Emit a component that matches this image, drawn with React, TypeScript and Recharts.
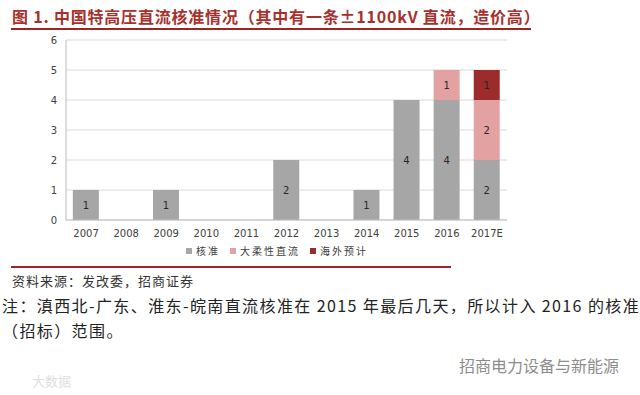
import { Bar, BarChart, CartesianGrid, LabelList, XAxis, YAxis } from "recharts";

const years = ["2007", "2008", "2009", "2010", "2011", "2012", "2013", "2014", "2015", "2016", "2017E"];
const approved = [1, 0, 1, 0, 0, 2, 0, 1, 4, 4, 2];
const flexible = [0, 0, 0, 0, 0, 0, 0, 0, 0, 1, 2];
const overseas = [0, 0, 0, 0, 0, 0, 0, 0, 0, 0, 1];
const yTicks = [0, 1, 2, 3, 4, 5, 6];
const boundaryTicks = [0, 1, 2, 3, 4, 5, 6, 7, 8, 9, 10, 11];

const series = [
  { key: "approved", name: "核准", color: "#a6a6a6" },
  { key: "flexible", name: "大柔性直流", color: "#e3a1a1" },
  { key: "overseas", name: "海外预计", color: "#9c2b2b" },
];

const data = years.map((y, i) => ({
  year: y,
  approved: approved[i],
  flexible: flexible[i],
  overseas: overseas[i],
}));

const axisFont = { fontSize: 10, fill: "#404040", fontFamily: "DejaVu Sans" };
const hideZero = (v: any) => (v ? String(v) : "");

export default function App() {
  return (
    <div
      style={{
        position: "absolute",
        left: 0,
        top: 0,
        width: 640,
        height: 395,
        background: "#fff",
        overflow: "hidden",
        fontFamily: "'Noto Sans CJK SC', sans-serif",
      }}
    >
      <div
        style={{
          position: "absolute",
          left: 12,
          top: 5,
          fontSize: 16,
          fontWeight: 700,
          letterSpacing: 0.8,
          color: "#a8302c",
          whiteSpace: "nowrap",
          lineHeight: "22px",
        }}
      >
        图 1. 中国特高压直流核准情况（其中有一条±1100kV 直流，造价高）
      </div>
      <div style={{ position: "absolute", left: 11, top: 28, width: 520, height: 2, background: "#9e2424" }} />

      <div style={{ position: "absolute", left: 0, top: 0 }}>
        <BarChart
          width={640}
          height={260}
          data={data}
          margin={{ top: 40, right: 133, left: 36, bottom: 20 }}
          barCategoryGap="17%"
        >
          <CartesianGrid vertical={false} stroke="#d9d9d9" />
          <XAxis
            xAxisId="b"
            type="number"
            domain={[0, 11]}
            ticks={boundaryTicks}
            height={0}
            tick={false}
            axisLine={false}
            tickLine={{ stroke: "#bfbfbf" }}
            tickSize={4}
          />
          <XAxis
            dataKey="year"
            height={20}
            tick={axisFont}
            tickLine={false}
            axisLine={{ stroke: "#bfbfbf" }}
            tickSize={0}
            tickMargin={10}
            interval={0}
          />
          <YAxis
            width={30}
            domain={[0, 6]}
            ticks={yTicks}
            tick={axisFont}
            tickLine={false}
            axisLine={{ stroke: "#bfbfbf" }}
            tickSize={0}
            tickMargin={9}
          />
          {series.map((s) => (
            <Bar key={s.key} dataKey={s.key} name={s.name} stackId="a" fill={s.color} isAnimationActive={false}>
              <LabelList
                dataKey={s.key}
                position="center"
                formatter={hideZero}
                style={{ fontSize: 10, fill: "#262626", fontFamily: "DejaVu Sans" }}
              />
            </Bar>
          ))}
        </BarChart>
      </div>

      <div
        style={{
          position: "absolute",
          left: 186,
          top: 243,
          display: "flex",
          gap: 10,
          fontSize: 10,
          letterSpacing: 2,
          color: "#404040",
          whiteSpace: "nowrap",
        }}
      >
        {series.map((s) => (
          <span key={s.key} style={{ display: "flex", alignItems: "center" }}>
            <span style={{ width: 6, height: 6, background: s.color, marginRight: 4 }} />
            {s.name}
          </span>
        ))}
      </div>

      <div style={{ position: "absolute", left: 11, top: 266, width: 440, height: 2, background: "#9e2424" }} />
      <div style={{ position: "absolute", left: 12, top: 271, fontSize: 13, letterSpacing: 1, color: "#333" }}>
        资料来源：发改委，招商证券
      </div>
      <div
        style={{
          position: "absolute",
          left: 2,
          top: 293,
          width: 640,
          fontSize: 16,
          letterSpacing: 1.4,
          lineHeight: "25px",
          color: "#222",
        }}
      >
        注：滇西北-广东、淮东-皖南直流核准在 2015 年最后几天，所以计入 2016 的核准
        <br />
        （招标）范围。
      </div>
      <div
        style={{
          position: "absolute",
          left: 459,
          top: 353,
          fontSize: 16,
          color: "#8c8c8c",
          whiteSpace: "nowrap",
        }}
      >
        招商电力设备与新能源
      </div>
      <div style={{ position: "absolute", left: 32, top: 371, fontSize: 13, color: "#dedede" }}>大数据</div>
    </div>
  );
}
